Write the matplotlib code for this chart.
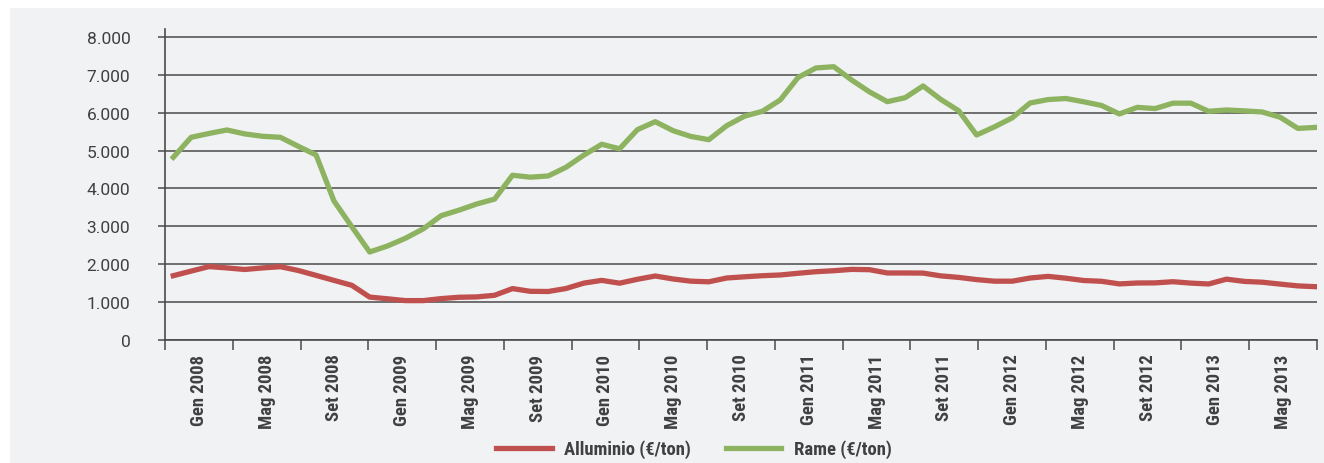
import matplotlib
matplotlib.use("Agg")
import matplotlib.pyplot as plt
from matplotlib import font_manager
from matplotlib.patches import Rectangle
from matplotlib.ticker import FixedLocator

# monthly prices, Jan 2008 - May 2013
rame = [4825, 5354, 5455, 5548, 5444, 5381, 5354, 5116, 4886, 3669,
        2989, 2320, 2479, 2683, 2931, 3280, 3426, 3590, 3720, 4350,
        4299, 4331, 4561, 4884, 5170, 5050, 5556, 5767, 5529, 5376,
        5291, 5661, 5913, 6042, 6341, 6937, 7188, 7222, 6870, 6556,
        6296, 6402, 6712, 6354, 6056, 5415, 5630, 5870, 6262, 6352,
        6381, 6294, 6196, 5971, 6146, 6114, 6257, 6257, 6042, 6077,
        6053, 6024, 5886, 5590, 5616]
alluminio = [1693, 1815, 1934, 1899, 1857, 1899, 1931, 1831, 1701, 1569,
             1439, 1127, 1082, 1034, 1034, 1087, 1122, 1132, 1175, 1352,
             1280, 1275, 1354, 1497, 1569, 1495, 1598, 1685, 1606, 1548,
             1532, 1632, 1664, 1693, 1712, 1757, 1799, 1825, 1860, 1852,
             1765, 1765, 1762, 1688, 1648, 1590, 1548, 1548, 1632, 1675,
             1627, 1566, 1545, 1476, 1500, 1503, 1534, 1497, 1474, 1601,
             1542, 1521, 1471, 1423, 1402]
mesi = list(range(len(rame)))

etichette_x = ["Gen 2008", "Mag 2008", "Set 2008", "Gen 2009", "Mag 2009", "Set 2009",
               "Gen 2010", "Mag 2010", "Set 2010", "Gen 2011", "Mag 2011", "Set 2011",
               "Gen 2012", "Mag 2012", "Set 2012", "Gen 2013", "Mag 2013"]
valori_y = [0, 1000, 2000, 3000, 4000, 5000, 6000, 7000, 8000]
etichette_y = ["0", "1.000", "2.000", "3.000", "4.000", "5.000", "6.000", "7.000", "8.000"]

rosso = "#c0504d"
verde = "#8db360"
grigio = "#4a4a4a"
sfondo = "#f1f2f4"

# a narrow bold face if there is one, otherwise Roboto a bit smaller
installed = {f.name for f in font_manager.fontManager.ttflist}
narrow, fs_x = ["Roboto", "DejaVu Sans"], 11.6
for nome in ["Liberation Sans Narrow", "DejaVu Sans Condensed", "Roboto Condensed", "Arial Narrow"]:
    if nome in installed:
        narrow, fs_x = [nome, "DejaVu Sans"], 13.4
        break

fig = plt.figure(figsize=(13.24, 4.64), dpi=100, facecolor="white")
fig.patches.append(Rectangle((10 / 1324, 0), 1, (464 - 9) / 464, transform=fig.transFigure,
                             facecolor=sfondo, edgecolor="none", zorder=-10))

ax = fig.add_axes([165 / 1324, 123.3 / 464, (1317 - 165) / 1324, 310.7 / 464])
ax.set_facecolor("none")

ax.plot(mesi, alluminio, color=rosso, lw=3.8, solid_joinstyle="round", label="Alluminio (€/ton)", zorder=3)
ax.plot(mesi, rame, color=verde, lw=3.8, solid_joinstyle="round", label="Rame (€/ton)", zorder=3)

x0, x1 = -0.465, 64.07
ax.set_xlim(x0, x1)
ax.set_ylim(0, 8219)

# y axis
ax.set_yticks(valori_y)
ax.set_yticklabels(etichette_y, family="Roboto", fontsize=12.5, color="#404040")
ax.yaxis.grid(True, color=grigio, lw=1.1)
ax.set_axisbelow(True)
ax.tick_params(axis="y", length=5, width=1.1, color=grigio, pad=20)

# x axis: tick marks every 4 months, labels centered in between
step = (x1 - x0) / len(etichette_x)
bordi = [x0 + k * step for k in range(len(etichette_x) + 1)]
centri = [x0 + (k + 0.5) * step for k in range(len(etichette_x))]
ax.xaxis.set_major_locator(FixedLocator(bordi))
ax.xaxis.set_minor_locator(FixedLocator(centri))
ax.set_xticklabels([""] * len(bordi))
ax.set_xticklabels(etichette_x, minor=True, rotation=90, family=narrow,
                   fontweight="bold", fontsize=fs_x, color="#404040")
ax.tick_params(axis="x", which="major", length=7, width=1.1, color=grigio)
ax.tick_params(axis="x", which="minor", length=0, pad=10)

for s in ["top", "right"]:
    ax.spines[s].set_visible(False)
for s in ["left", "bottom"]:
    ax.spines[s].set_color(grigio)
    ax.spines[s].set_linewidth(1.2)

leg = fig.legend(loc="center", bbox_to_anchor=(694 / 1324, 14 / 464), ncol=2, frameon=False,
                 handlelength=40 / fs_x, handletextpad=9 / fs_x, columnspacing=25 / fs_x,
                 prop={"family": narrow, "weight": "bold", "size": fs_x})
for t in leg.get_texts():
    t.set_color("#404040")
for h in leg.legend_handles:
    h.set_linewidth(3.8)

fig.savefig("out.png", dpi=100, facecolor="white")
